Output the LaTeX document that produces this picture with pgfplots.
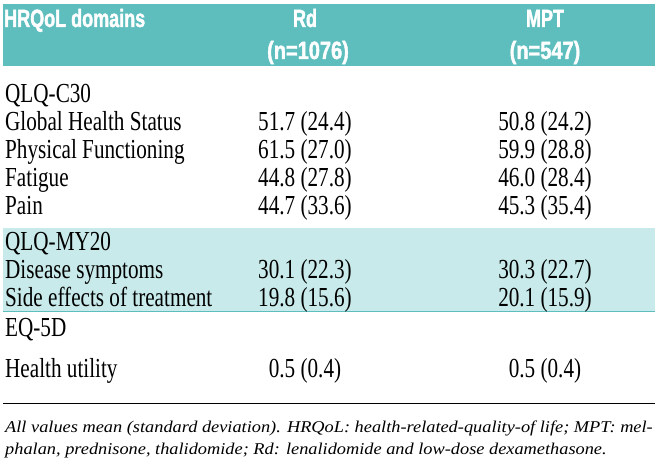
\documentclass[border=0pt]{standalone}
\usepackage{pgfplots}
\pgfplotsset{compat=1.18}
\usepackage{fontspec}
\usepackage{graphicx}
\setmainfont{Liberation Serif}
\newfontfamily\bodyfont[FakeStretch=0.77]{Liberation Serif}
\newfontfamily\headfont[FakeStretch=0.72,FakeBold=1.5]{Liberation Sans Bold}
\newfontfamily\headfontB[FakeStretch=0.80,FakeBold=1.5]{Liberation Sans Bold}
\newfontfamily\capfont{Liberation Serif Italic}
\definecolor{hdr}{RGB}{94,190,190}
\definecolor{band}{RGB}{200,234,234}
\newsavebox\capA
\newsavebox\capB
\begin{document}%
\sbox\capA{\capfont\fontsize{16.5bp}{22bp}\selectfont All values mean (standard deviation). HRQoL: health-related-quality-of life; MPT: mel-}%
\sbox\capB{\capfont\fontsize{16.5bp}{22bp}\selectfont phalan, prednisone, thalidomide; Rd: lenalidomide and low-dose dexamethasone.}%
\pgfmathsetmacro\capscale{650/(\wd\capA)}%
\begin{tikzpicture}
\begin{axis}[
  width=660bp, height=472bp, scale only axis,
  xmin=0, xmax=660, ymin=0, ymax=472, y dir=reverse,
  hide axis, clip=false,
]
\coordinate (SW) at (0,472);
\coordinate (NE) at (660,0);
% bands
\fill[hdr] (3,4) rectangle (655,66);
\fill[band] (3,228) rectangle (655,311);
\draw[hdr, line width=1.2bp] (3,311.5) -- (655,311.5);
\draw[black, line width=1bp] (3,403) -- (655,403);
% header
\begin{scope}[every node/.style={text=white, inner sep=0pt, font=\headfont\fontsize{25bp}{28bp}\selectfont}]
\node[anchor=base west] at (4,27) {HRQoL domains};
\node[anchor=base] at (305,27) {Rd};
\node[anchor=base, font=\headfontB\fontsize{25bp}{28bp}\selectfont] at (308,59) {(n=1076)};
\node[anchor=base] at (545,27) {MPT};
\node[anchor=base, font=\headfontB\fontsize{25bp}{28bp}\selectfont] at (545,59) {(n=547)};
\end{scope}
% body
\begin{scope}[every node/.style={inner sep=0pt, font=\bodyfont\fontsize{27.5bp}{28bp}\selectfont}]
\node[anchor=base west] at (5,102) {QLQ-C30};
\node[anchor=base west] at (5,130) {Global Health Status};
\node[anchor=base] at (305,130) {51.7 (24.4)};
\node[anchor=base] at (545,130) {50.8 (24.2)};
\node[anchor=base west] at (5,158) {Physical Functioning};
\node[anchor=base] at (305,158) {61.5 (27.0)};
\node[anchor=base] at (545,158) {59.9 (28.8)};
\node[anchor=base west] at (5,186) {Fatigue};
\node[anchor=base] at (305,186) {44.8 (27.8)};
\node[anchor=base] at (545,186) {46.0 (28.4)};
\node[anchor=base west] at (5,214) {Pain};
\node[anchor=base] at (305,214) {44.7 (33.6)};
\node[anchor=base] at (545,214) {45.3 (35.4)};
\node[anchor=base west] at (5,250) {QLQ-MY20};
\node[anchor=base west] at (5,278) {Disease symptoms};
\node[anchor=base] at (305,278) {30.1 (22.3)};
\node[anchor=base] at (545,278) {30.3 (22.7)};
\node[anchor=base west] at (5,306) {Side effects of treatment};
\node[anchor=base] at (305,306) {19.8 (15.6)};
\node[anchor=base] at (545,306) {20.1 (15.9)};
\node[anchor=base west] at (5,336) {EQ-5D};
\node[anchor=base west] at (5,377) {Health utility};
\node[anchor=base] at (305,377) {0.5 (0.4)};
\node[anchor=base] at (545,377) {0.5 (0.4)};
\end{scope}
% caption
\node[anchor=base west, inner sep=0pt] at (5,432) {\scalebox{\capscale}[1]{\usebox\capA}};
\node[anchor=base west, inner sep=0pt] at (5,454) {\scalebox{\capscale}[1]{\usebox\capB}};
\end{axis}
\pgfresetboundingbox
\path (SW) rectangle (NE);
\end{tikzpicture}%
\end{document}
